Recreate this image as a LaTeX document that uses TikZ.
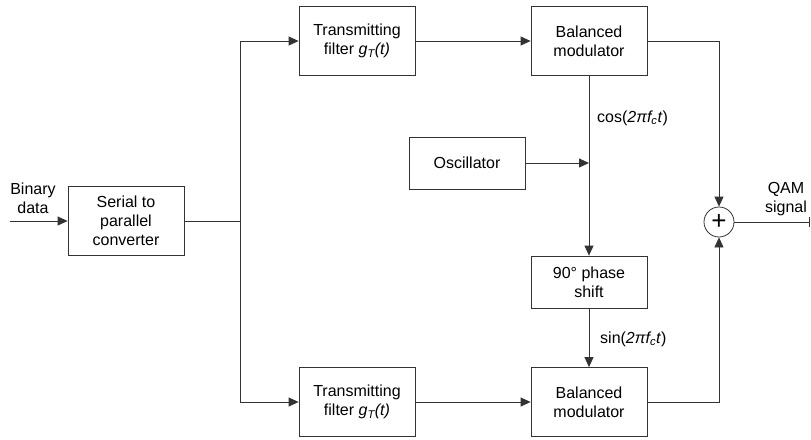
\documentclass[tikz,border=0pt]{standalone}
\usepackage{fontspec}
\setmainfont{Liberation Sans}
\usetikzlibrary{arrows.meta}
\begin{document}
\begin{tikzpicture}[
    x=1pt, y=-1pt,
    block/.style={rectangle, draw=black!80, line width=0.8pt, minimum width=116pt, minimum height=69pt, inner sep=0pt, align=center, font=\fontsize{16}{19}\selectfont},
    sblock/.style={block, minimum height=52pt},
    adder/.style={circle, draw=black!80, line width=0.8pt, minimum size=30pt, inner sep=0pt, font=\fontsize{26}{26}\selectfont},
    lbl/.style={align=center, inner sep=0pt, font=\fontsize{16}{19}\selectfont},
    arr/.style={draw=black!80, line width=0.8pt, -{Triangle[length=10pt, width=9pt]}},
    wire/.style={draw=black!80, line width=0.8pt}
]
\useasboundingbox (0,0) rectangle (811,439);

%  -- Input and serial to parallel conversion  --
\coordinate (in) at (10,221);
\node[lbl] (bin) at (33,198) {Binary\\data};
\node[block] (serial) at (126,221) {Serial to\\parallel\\converter};
\coordinate (split) at (240,221);
\draw[arr] (in) -- (serial);
\draw[wire] (serial) -- (split);

%  -- In-phase branch  --
\node[block] (filtA) at (357,41) {Transmitting\\filter \textit{g\textsubscript{T}(t)}};
\node[block] (modA)  at (589,41) {Balanced\\modulator};
\draw[arr] (split) |- (filtA);
\draw[arr] (filtA) -- (modA);

%  -- Carrier generation  --
\node[sblock] (osc)   at (467,163) {Oscillator};
\node[sblock] (shift) at (589,282) {90° phase\\shift};
\draw[arr] (modA) -- (shift);
\draw[arr] (osc) -- (osc -| shift);
\node[lbl, anchor=west] (cosl) at (597,118) {cos(\textit{2πf\textsubscript{c}t})};

%  -- Quadrature branch  --
\node[block] (filtB) at (357,402) {Transmitting\\filter \textit{g\textsubscript{T}(t)}};
\node[block] (modB)  at (589,402) {Balanced\\modulator};
\draw[arr] (split) |- (filtB);
\draw[arr] (filtB) -- (modB);
\draw[arr] (shift) -- (modB);
\node[lbl, anchor=west] (sinl) at (600,339) {sin(\textit{2πf\textsubscript{c}t})};

%  -- Summation and output  --
\node[adder] (sum) at (719,222) {+};
\coordinate (out) at (810,222);
\draw[arr] (modA) -| (sum);
\draw[arr] (modB) -| (sum);
\draw[wire, -{Bar[width=10pt]}] (sum) -- (out);
\node[lbl] (qam) at (786,199) {QAM\\signal};

\end{tikzpicture}
\end{document}
